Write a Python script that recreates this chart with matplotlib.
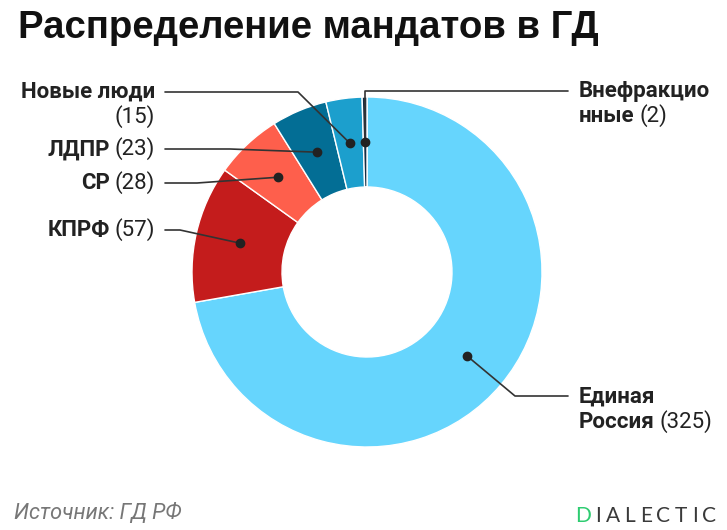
import matplotlib.pyplot as plt
import numpy as np

# данные
parties = ['Единая Россия', 'КПРФ', 'СР', 'ЛДПР', 'Новые люди', 'Внефракционные']
seats = [325, 57, 28, 23, 15, 2]
colors = ['#66d5fd', '#c41c1c', '#fe5f4c', '#036e95', '#1c9fcd', '#142d45']

title = 'Распределение мандатов в ГД'
source = 'Источник: ГД РФ'
brand = 'DIALECTIC'

LABEL_FONT = 'Roboto'
FS = 16

# подписи: строки из кусков (текст, жирный), якорь, выравнивание, точки выноски
labels = {
    'Единая Россия': dict(lines=[[('Единая', True)], [('Россия', True), ('(325)', False)]],
                          x=579, y=397, ha='left', path=[(568, 396), (515, 396)]),
    'КПРФ': dict(lines=[[('КПРФ', True), ('(57)', False)]],
                 x=155, y=230, ha='right', path=[(165, 230), (180, 230)]),
    'СР': dict(lines=[[('СР', True), ('(28)', False)]],
               x=155, y=183, ha='right', path=[(165, 183), (197, 183)]),
    'ЛДПР': dict(lines=[[('ЛДПР', True), ('(23)', False)]],
                 x=155, y=149, ha='right', path=[(165, 149), (230, 149)]),
    'Новые люди': dict(lines=[[('Новые люди', True)], [('(15)', False)]],
                       x=155, y=92, ha='right', path=[(165, 92), (298, 92)]),
    'Внефракционные': dict(lines=[[('Внефракцио', True)], [('нные', True), ('(2)', False)]],
                           x=579, y=91, ha='left', path=[(568, 91), None]),
}

fig = plt.figure(figsize=(7.27, 5.30), dpi=100)
ax = fig.add_axes([0, 0, 1, 1])

cx, cy, R, W = 367, 272, 175, 90
wedges, _ = ax.pie(seats, colors=colors, startangle=-90, counterclock=True,
                   center=(cx, cy), radius=R,
                   wedgeprops=dict(width=W, edgecolor='white', linewidth=1))
ax.set_xlim(0, 727)
ax.set_ylim(530, 0)
ax.set_aspect('equal')
ax.axis('off')


def draw_line(x, y, parts, ha):
    segs = parts if ha == 'left' else parts[::-1]
    prev = None
    for txt, bold in segs:
        kw = dict(fontsize=FS, family=LABEL_FONT, color='#222222',
                  fontweight='bold' if bold else 'normal')
        if prev is None:
            prev = ax.text(x, y, txt, ha=ha, va='center', **kw)
        else:
            if ha == 'left':
                prev = ax.annotate(txt, xy=(1, 0), xycoords=prev, xytext=(3.5, 0),
                                   textcoords='offset points', ha='left', va='bottom', **kw)
            else:
                prev = ax.annotate(txt, xy=(0, 0), xycoords=prev, xytext=(-3.5, 0),
                                   textcoords='offset points', ha='right', va='bottom', **kw)


rmid = R - W / 2
for name, w in zip(parties, wedges):
    th = np.deg2rad((w.theta1 + w.theta2) / 2)
    dx, dy = cx + rmid * np.cos(th), cy + rmid * np.sin(th)
    lab = labels[name]
    pts = list(lab['path'])
    if pts[-1] is None:
        pts[-1] = (dx, pts[0][1])
    xs = [p[0] for p in pts] + [dx]
    ys = [p[1] for p in pts] + [dy]
    ax.plot(xs, ys, color='#333333', lw=1.2, solid_capstyle='round')
    ax.plot(dx, dy, 'o', color='#222222', ms=6)
    for i, parts in enumerate(lab['lines']):
        draw_line(lab['x'], lab['y'] + i * 25, parts, lab['ha'])

ax.text(18, 38, title, fontsize=27.6, fontweight='bold', family='Liberation Sans',
        color='#111111', ha='left', va='baseline')
ax.text(14, 519, source, fontsize=15.6, style='italic', family=LABEL_FONT,
        color='#777777', ha='left', va='baseline')

# логотип с разрядкой
prev = None
for i, ch in enumerate(brand):
    kw = dict(fontsize=15, family='Lato', fontweight='normal',
              color='#2ecc71' if i == 0 else '#3a3a3a')
    if prev is None:
        prev = ax.text(575, 522, ch, ha='left', va='baseline', **kw)
    else:
        prev = ax.annotate(ch, xy=(1, 0), xycoords=prev, xytext=(3.3, 0),
                           textcoords='offset points', ha='left', va='bottom', **kw)

fig.savefig('out.png', dpi=100)
